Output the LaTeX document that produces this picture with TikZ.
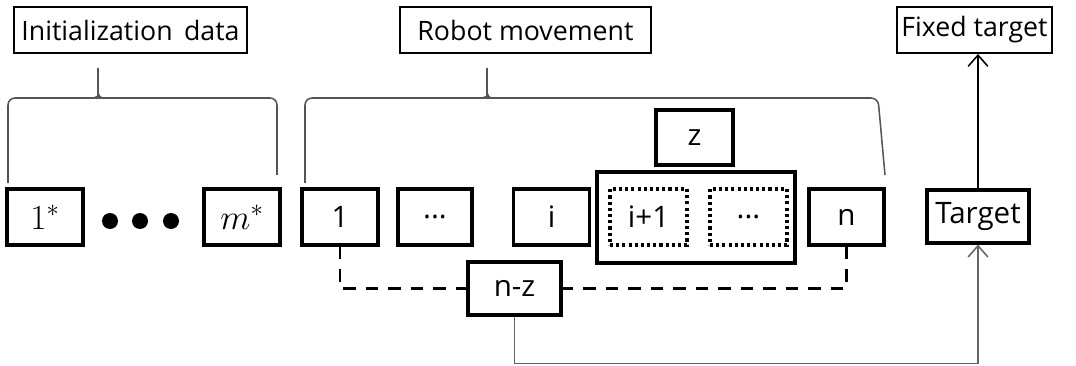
\RequirePackage{fix-cm}
\documentclass[tikz,border=0pt]{standalone}
\usepackage{fontspec}
\setmainfont{Open Sans}
\usepackage{tikz}
\usetikzlibrary{arrows.meta,positioning,calc}
\definecolor{grisllave}{RGB}{85,85,85}
\definecolor{grislinea}{RGB}{100,100,100}

\tikzset{
  rotulo/.style={draw,line width=1.3pt,minimum height=1.15cm,inner sep=0pt,font=\fontsize{19}{22}\selectfont},
  caja/.style={draw,line width=2.2pt,minimum width=1.9cm,minimum height=1.4cm,inner sep=0pt,font=\fontsize{21}{24}\selectfont},
  cajamat/.style={caja,font=\fontsize{25}{28}\selectfont},
  punteada/.style={caja,dash pattern=on 2.2pt off 2.2pt},
  llave/.style={grisllave,line width=1.1pt,rounded corners=5pt},
  enlace/.style={line width=2.1pt,dash pattern=on 9pt off 7pt},
  flecha/.style={-{Straight Barb[length=8pt,width=14pt,line width=1.1pt]},line width=1.1pt},
}

\begin{document}
\begin{tikzpicture}[x=0.025cm,y=-0.025cm]
\useasboundingbox (0,0) rectangle (1076,366);

% rotulos de arriba
\node[rotulo,minimum width=5.825cm] (ini) at (130.5,30) {Initialization\ \,data};
\node[rotulo,minimum width=6.275cm] (rob) at (525.5,30) {Robot movement};
\node[rotulo,minimum width=3.875cm] (fij) at (974.5,30) {Fixed target};

% datos de inicializacion
\node[cajamat] (ini1) at (45,217) {$1^*$};
\foreach \px in {110,140,171}
  \fill (\px,221) circle (8);
\node[cajamat] (inim) at (242,217) {$m^*$};

% pasos del robot
\node[caja] (p1) at (340,217) {1};
\node[caja,minimum width=1.85cm] (pdots) at (435,217) {...};
\node[caja] (pi) at (551.5,217) {i};
\node[caja,minimum width=4.95cm,minimum height=2.275cm] (grupo) at (696,217.5) {};
\node[punteada,minimum width=1.925cm] (pi1) at (648.5,217) {i+1};
\node[punteada,minimum width=1.925cm] (pdots2) at (748.5,217) {...};
\node[caja,minimum width=1.875cm] (pn) at (846.5,217) {n};
\node[caja,minimum width=1.925cm,minimum height=1.375cm] (z) at (694.5,137.5) {z};
\node[caja,minimum width=2.55cm,minimum height=1.325cm] (obj) at (978,216.5) {Target};
\node[caja,minimum width=2.325cm,minimum height=1.325cm] (nz) at (514.5,288.5) {n-z};

% llaves
\draw[llave] (8,183) |- (277,98) -- (277,175);
\draw[llave] (93,98) to[out=0,in=-90] (98,91) -- (98,68);
\draw[llave] (98,91) to[out=-90,in=180] (103,98);
\draw[llave] (305,183) |- (878,98) -- (885,175);
\draw[llave] (482,98) to[out=0,in=-90] (487,91) -- (487,68);
\draw[llave] (487,91) to[out=-90,in=180] (492,98);

% conexiones
\draw[enlace] (p1.south) |- (nz.west);
\draw[enlace] (pn.south) |- (nz.east);
\draw[flecha,grislinea] (nz.south) -- ++(0,47) -| (obj.south);
\draw[flecha] (obj.north) -- (obj.north |- fij.south);
\end{tikzpicture}
\end{document}
